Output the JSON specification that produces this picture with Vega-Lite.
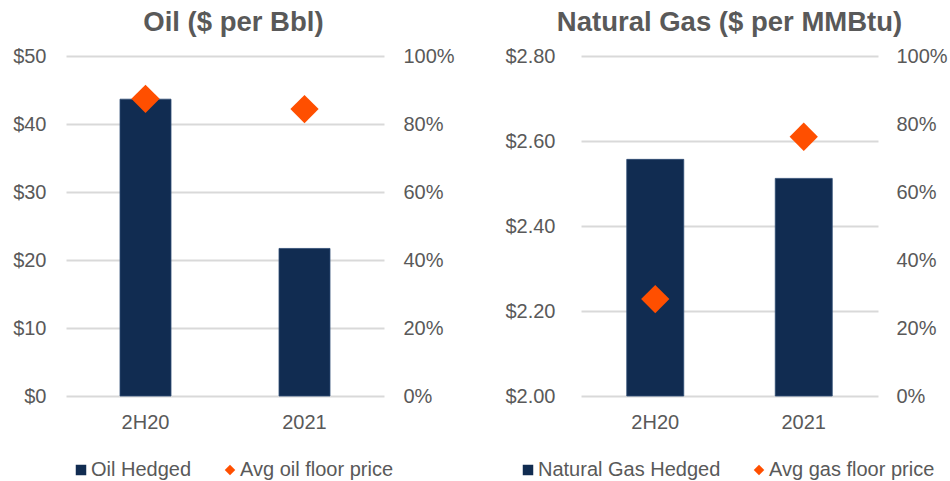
{
  "$schema": "https://vega.github.io/schema/vega-lite/v6.json",
  "background": "white",
  "padding": {"left": 12, "top": 8, "right": 0, "bottom": 0},
  "config": {
    "font": "Liberation Sans",
    "view": {"stroke": null},
    "axis": {
      "labelFont": "Liberation Sans",
      "labelFontSize": 20,
      "labelColor": "#595959",
      "ticks": false,
      "domain": false,
      "gridColor": "#D9D9D9",
      "gridWidth": 2,
      "title": null
    },
    "legend": {
      "labelFont": "Liberation Sans",
      "labelFontSize": 20,
      "labelColor": "#595959",
      "labelLimit": 400,
      "symbolSize": 110,
      "symbolStrokeWidth": 0,
      "labelOffset": 0,
      "columnPadding": 28,
      "direction": "horizontal",
      "title": null
    },
    "title": {
      "font": "Liberation Sans",
      "fontSize": 27.5,
      "fontWeight": "bold",
      "color": "#595959",
      "anchor": "middle",
      "offset": 10
    },
    "concat": {"spacing": 49}
  },
  "resolve": {
    "scale": {"color": "independent", "shape": "independent"},
    "legend": {"color": "independent", "shape": "independent"}
  },
  "hconcat": [
    {
      "title": {"text": "Oil ($ per Bbl)", "frame": "bounds"},
      "width": 318,
      "height": 340,
      "data": {
        "values": [
          {"period": "2H20", "series": "Oil Hedged", "value": 0.873},
          {"period": "2021", "series": "Oil Hedged", "value": 0.434},
          {"period": "2H20", "series": "Avg oil floor price", "value": 43.7},
          {"period": "2021", "series": "Avg oil floor price", "value": 42.2}
        ]
      },
      "encoding": {
        "x": {
          "field": "period",
          "type": "nominal",
          "sort": ["2H20", "2021"],
          "scale": {"paddingInner": 0, "paddingOuter": 0},
          "axis": {"labelAngle": 0, "labelPadding": 16, "grid": false}
        }
      },
      "layer": [
        {
          "transform": [{"filter": "datum.series === 'Oil Hedged'"}],
          "mark": {"type": "bar", "size": 51, "stroke": "#2F4B73", "strokeWidth": 0.8},
          "encoding": {
            "y": {
              "field": "value",
              "type": "quantitative",
              "scale": {"domain": [0, 1]},
              "axis": {"orient": "right", "values": [0, 0.2, 0.4, 0.6, 0.8, 1], "format": ".0%", "grid": false, "labelPadding": 19}
            },
            "color": {
              "field": "series",
              "type": "nominal",
              "scale": {"domain": ["Oil Hedged", "Avg oil floor price"], "range": ["#112C51", "#FF4F00"]},
              "legend": {"orient": "none", "legendX": 5, "legendY": 404}
            }
          }
        },
        {
          "transform": [{"filter": "datum.series === 'Avg oil floor price'"}],
          "mark": {"type": "point", "filled": true, "opacity": 1, "size": 800},
          "encoding": {
            "y": {
              "field": "value",
              "type": "quantitative",
              "scale": {"domain": [0, 50]},
              "axis": {"orient": "left", "values": [0, 10, 20, 30, 40, 50], "format": "$.0f", "grid": true, "labelPadding": 20}
            },
            "color": {
              "field": "series",
              "type": "nominal",
              "scale": {"domain": ["Oil Hedged", "Avg oil floor price"], "range": ["#112C51", "#FF4F00"]},
              "legend": {"orient": "none", "legendX": 5, "legendY": 404}
            },
            "shape": {
              "field": "series",
              "type": "nominal",
              "scale": {"domain": ["Oil Hedged", "Avg oil floor price"], "range": ["square", "diamond"]},
              "legend": {"orient": "none", "legendX": 5, "legendY": 404}
            }
          }
        }
      ],
      "resolve": {"scale": {"y": "independent"}}
    },
    {
      "title": {"text": "Natural Gas ($ per MMBtu)", "frame": "group"},
      "width": 297,
      "height": 340,
      "data": {
        "values": [
          {"period": "2H20", "series": "Natural Gas Hedged", "value": 0.696},
          {"period": "2021", "series": "Natural Gas Hedged", "value": 0.64},
          {"period": "2H20", "series": "Avg gas floor price", "value": 2.228},
          {"period": "2021", "series": "Avg gas floor price", "value": 2.61}
        ]
      },
      "encoding": {
        "x": {
          "field": "period",
          "type": "nominal",
          "sort": ["2H20", "2021"],
          "scale": {"paddingInner": 0, "paddingOuter": 0},
          "axis": {"labelAngle": 0, "labelPadding": 16, "grid": false}
        }
      },
      "layer": [
        {
          "transform": [{"filter": "datum.series === 'Natural Gas Hedged'"}],
          "mark": {"type": "bar", "size": 57, "stroke": "#2F4B73", "strokeWidth": 0.8},
          "encoding": {
            "y": {
              "field": "value",
              "type": "quantitative",
              "scale": {"domain": [0, 1]},
              "axis": {"orient": "right", "values": [0, 0.2, 0.4, 0.6, 0.8, 1], "format": ".0%", "grid": false, "labelPadding": 18}
            },
            "color": {
              "field": "series",
              "type": "nominal",
              "scale": {"domain": ["Natural Gas Hedged", "Avg gas floor price"], "range": ["#112C51", "#FF4F00"]},
              "legend": {"orient": "none", "legendX": -63, "legendY": 404}
            }
          }
        },
        {
          "transform": [{"filter": "datum.series === 'Avg gas floor price'"}],
          "mark": {"type": "point", "filled": true, "opacity": 1, "size": 800},
          "encoding": {
            "y": {
              "field": "value",
              "type": "quantitative",
              "scale": {"domain": [2, 2.8], "zero": false},
              "axis": {"orient": "left", "values": [2, 2.2, 2.4, 2.6, 2.8], "format": "$.2f", "grid": true, "labelPadding": 26}
            },
            "color": {
              "field": "series",
              "type": "nominal",
              "scale": {"domain": ["Natural Gas Hedged", "Avg gas floor price"], "range": ["#112C51", "#FF4F00"]},
              "legend": {"orient": "none", "legendX": -63, "legendY": 404}
            },
            "shape": {
              "field": "series",
              "type": "nominal",
              "scale": {"domain": ["Natural Gas Hedged", "Avg gas floor price"], "range": ["square", "diamond"]},
              "legend": {"orient": "none", "legendX": -63, "legendY": 404}
            }
          }
        }
      ],
      "resolve": {"scale": {"y": "independent"}}
    }
  ]
}
